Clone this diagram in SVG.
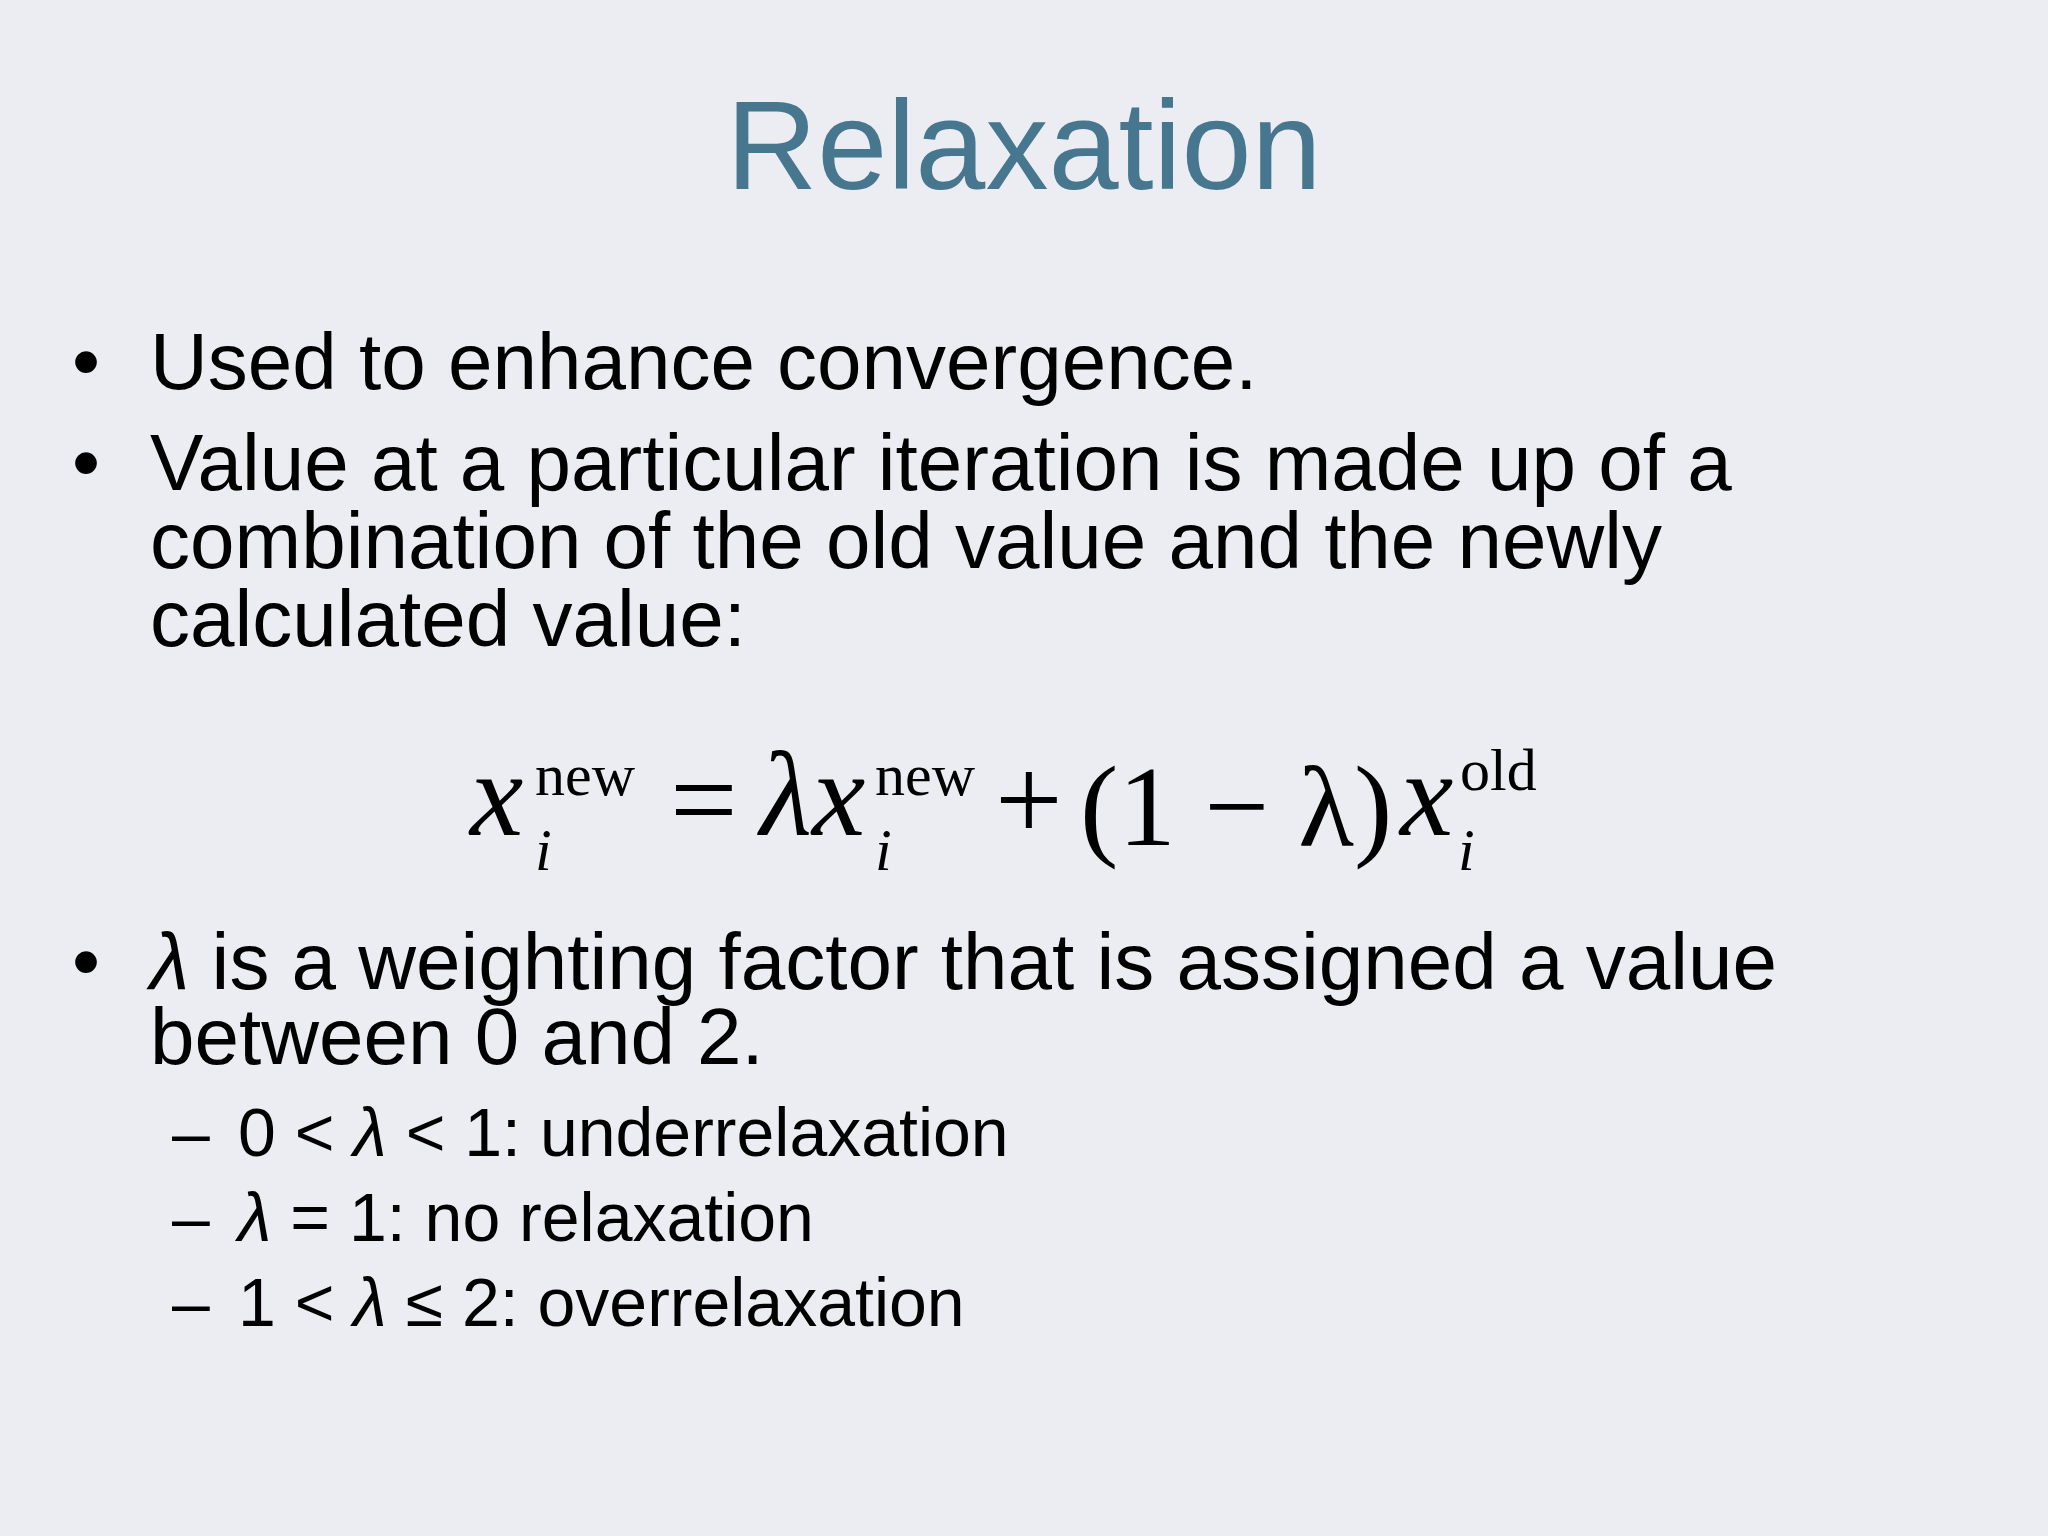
<svg xmlns="http://www.w3.org/2000/svg" width="2048" height="1536" viewBox="0 0 2048 1536">
<style>
.b{font-family:"Liberation Sans",Arial,sans-serif;font-size:80px;fill:#000}
.s{font-family:"Liberation Sans",Arial,sans-serif;font-size:68px;fill:#000}
.m{font-family:"Liberation Serif","Times New Roman",serif;fill:#000}
</style>
<rect width="2048" height="1536" fill="#ECECF3"/>
<g id="title"><text x="1024" y="189" text-anchor="middle" font-family="Liberation Sans,Arial,sans-serif" font-size="126" fill="#46778F">Relaxation</text></g>
<g id="bullets">
<text class="b" x="72" y="389">•</text><text class="b" x="150" y="389">Used to enhance convergence.</text>
<text class="b" x="72" y="490">•</text><text class="b" x="150" y="490">Value at a particular iteration is made up of a</text>
<text class="b" x="150" y="568">combination of the old value and the newly</text>
<text class="b" x="150" y="646">calculated value:</text>
<text class="b" x="72" y="989">•</text><text class="b" x="150" y="989"><tspan font-style="italic">λ</tspan> is a weighting factor that is assigned a value</text>
<text class="b" x="150" y="1064">between 0 and 2.</text>
<text class="s" x="172" y="1156">–</text><text class="s" x="238" y="1156">0 &lt; <tspan font-style="italic">λ</tspan> &lt; 1: underrelaxation</text>
<text class="s" x="172" y="1241">–</text><text class="s" x="238" y="1241"><tspan font-style="italic">λ</tspan> = 1: no relaxation</text>
<text class="s" x="172" y="1326">–</text><text class="s" x="238" y="1326">1 &lt; <tspan font-style="italic">λ</tspan> ≤ 2: overrelaxation</text>
</g>
<g id="formula" class="m">
<text x="470" y="835" font-size="120" font-style="italic">x</text>
<text x="535" y="870" font-size="60" font-style="italic">i</text>
<text x="535" y="795" font-size="60">new</text>
<text x="670" y="840" font-size="120">=</text>
<text x="760" y="835" font-size="120" font-style="italic">λx</text>
<text x="875" y="870" font-size="60" font-style="italic">i</text>
<text x="875" y="795" font-size="60">new</text>
<text x="995" y="840" font-size="120">+</text>
<text x="1080" y="845" font-size="115">(1 − λ)</text>
<text x="1400" y="835" font-size="120" font-style="italic">x</text>
<text x="1458" y="870" font-size="60" font-style="italic">i</text>
<text x="1460" y="790" font-size="60">old</text>
</g>
</svg>
